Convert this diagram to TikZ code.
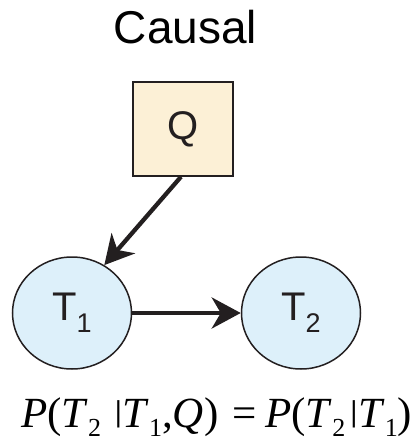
\documentclass[tikz,border=0pt]{standalone}
\usepackage{fontspec}
\usepackage{graphicx}
\setmainfont{Liberation Sans}
\newfontfamily\eqfont{Liberation Serif}
\usetikzlibrary{arrows.meta,shapes.geometric}
\definecolor{ink}{HTML}{231F20}
\definecolor{qfill}{HTML}{FCF0D6}
\definecolor{tfill}{HTML}{DDF0FA}
\newcommand{\eqsub}[1]{\raisebox{-9pt}{\fontsize{26}{26}\selectfont #1}}
\newcommand{\eqbar}{\raisebox{6pt}{\scalebox{1}[0.7]{|}}}
\newcommand{\lblsub}[1]{\raisebox{-12pt}{\fontsize{27}{27}\selectfont #1}}
\begin{document}
\begin{tikzpicture}[x=1pt,y=-1pt,
  qbox/.style={draw=ink,line width=1.5pt,fill=qfill,rectangle,minimum width=100pt,minimum height=94pt,inner sep=0pt,text=ink,font=\fontsize{40}{40}\selectfont},
  tnode/.style={draw=ink,line width=1.5pt,fill=tfill,ellipse,minimum width=119pt,minimum height=112pt,inner sep=0pt,text=ink,font=\fontsize{40}{40}\selectfont},
  conn/.style={draw=ink,line width=4.3pt,-{Stealth[length=29pt,width=31pt,inset=9pt]}}]
\useasboundingbox (0,0) rectangle (420,445);
\node[anchor=base,text=black,font=\fontsize{46}{46}\selectfont] (title) at (185.5,43) {Causal};
\node[qbox] (Q) at (183,129) {Q};
\node[tnode] (T1) at (72,313) {T\lblsub{1}};
\node[tnode] (T2) at (301,313) {T\lblsub{2}};
\draw[conn] ([xshift=-2pt]Q.south) -- (T1.56);
\draw[conn] (T1.east) -- (T2.west);
\node[anchor=base west,inner sep=0pt,text=black,font=\eqfont\fontsize{43}{43}\selectfont] (eq) at (21,427)
 {\textit{P}(\textit{T}\eqsub{2}\hspace{0.3em}\eqbar\textit{T}\eqsub{1},\textit{Q})\hspace{0.33em}=\hspace{0.2em}\textit{P}(\textit{T}\eqsub{2}\hspace{0.1em}\eqbar\textit{T}\eqsub{1})};
\end{tikzpicture}
\end{document}
